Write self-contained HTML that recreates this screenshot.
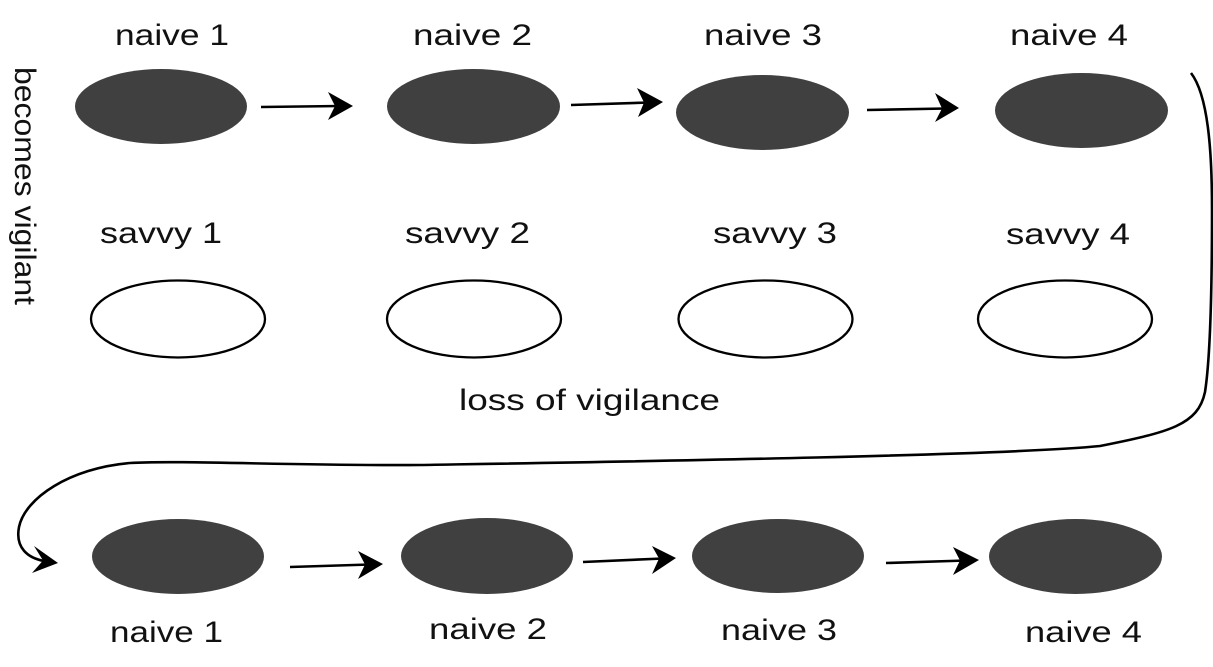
<!DOCTYPE html>
<html>
<head>
<meta charset="utf-8">
<style>
  html, body { margin: 0; padding: 0; background: #ffffff; }
  body { width: 1213px; height: 667px; overflow: hidden; }
  svg { display: block; }
  text { font-family: "Liberation Sans", Arial, sans-serif; font-size: 30px; fill: #111; }
</style>
</head>
<body>
<svg width="1213" height="667" viewBox="0 0 1213 667" xmlns="http://www.w3.org/2000/svg">
  <rect width="1213" height="667" fill="#fff"/>

  <!-- top labels -->
  <text x="115" y="45" textLength="114" lengthAdjust="spacingAndGlyphs">naive 1</text>
  <text x="413" y="45" textLength="119" lengthAdjust="spacingAndGlyphs">naive 2</text>
  <text x="704" y="45" textLength="118" lengthAdjust="spacingAndGlyphs">naive 3</text>
  <text x="1010" y="45" textLength="118" lengthAdjust="spacingAndGlyphs">naive 4</text>

  <!-- top naive ellipses -->
  <g fill="#404040">
    <ellipse cx="161" cy="106.5" rx="86" ry="37.5"/>
    <ellipse cx="473.5" cy="106.5" rx="86.5" ry="37.5"/>
    <ellipse cx="762.5" cy="112.5" rx="86.5" ry="37.5"/>
    <ellipse cx="1081.5" cy="110.5" rx="86.5" ry="37.5"/>
  </g>

  <!-- top arrows -->
  <g stroke="#000" stroke-width="2.6" fill="none">
    <line x1="261" y1="107" x2="340" y2="106"/>
    <line x1="571" y1="105" x2="650" y2="102.5"/>
    <line x1="867" y1="110" x2="946" y2="108.5"/>
  </g>
  <g fill="#000">
    <polygon points="353,106 328,92 335,106 328,120"/>
    <polygon points="663,102 637,88 644,102.5 638,117"/>
    <polygon points="959,108 935,93 942,108.5 935,122"/>
  </g>

  <!-- vertical label -->
  <text transform="translate(15,67) rotate(90)" x="0" y="0" textLength="238" lengthAdjust="spacingAndGlyphs">becomes vigilant</text>

  <!-- savvy labels -->
  <text x="100" y="243" textLength="122" lengthAdjust="spacingAndGlyphs">savvy 1</text>
  <text x="405" y="243" textLength="125" lengthAdjust="spacingAndGlyphs">savvy 2</text>
  <text x="713" y="243" textLength="124" lengthAdjust="spacingAndGlyphs">savvy 3</text>
  <text x="1006" y="244" textLength="124" lengthAdjust="spacingAndGlyphs">savvy 4</text>

  <!-- savvy ellipses -->
  <g fill="#fff" stroke="#000" stroke-width="2.3">
    <ellipse cx="178" cy="319" rx="87" ry="38.5"/>
    <ellipse cx="474" cy="319" rx="87" ry="38.5"/>
    <ellipse cx="765.5" cy="319" rx="87" ry="38.5"/>
    <ellipse cx="1065" cy="319" rx="87" ry="38.5"/>
  </g>

  <text x="459" y="410" textLength="261" lengthAdjust="spacingAndGlyphs">loss of vigilance</text>

  <!-- big return curve -->
  <path d="M1191,73 C1208,95 1212,150 1212,210 C1212,300 1210,360 1205,392 C1198,425 1170,432 1100,446 C1000,456 600,462 420,465 C300,466 180,460 130,463 C70,468 25,498 19,527 C15,548 28,558 44,561"
        fill="none" stroke="#000" stroke-width="2.6"/>
  <polygon points="58,563 34,546 43,560.5 32,573" fill="#000"/>

  <!-- bottom naive ellipses -->
  <g fill="#404040">
    <ellipse cx="178" cy="556.5" rx="86" ry="37.5"/>
    <ellipse cx="487" cy="556" rx="86" ry="38"/>
    <ellipse cx="778" cy="556" rx="86" ry="37"/>
    <ellipse cx="1075.5" cy="556.5" rx="86.5" ry="37.5"/>
  </g>

  <!-- bottom arrows -->
  <g stroke="#000" stroke-width="2.6" fill="none">
    <line x1="290" y1="567" x2="370" y2="564.5"/>
    <line x1="583" y1="562" x2="663" y2="558.5"/>
    <line x1="886" y1="563" x2="966" y2="560.5"/>
  </g>
  <g fill="#000">
    <polygon points="383,564 358,551 365,564.5 358,579"/>
    <polygon points="676,558 652,546 659,558.5 652,574"/>
    <polygon points="979,560 953,547 960,560.5 953,575"/>
  </g>

  <!-- bottom labels -->
  <text x="110" y="642" textLength="113" lengthAdjust="spacingAndGlyphs">naive 1</text>
  <text x="429" y="639" textLength="118" lengthAdjust="spacingAndGlyphs">naive 2</text>
  <text x="721" y="640" textLength="116" lengthAdjust="spacingAndGlyphs">naive 3</text>
  <text x="1025" y="642" textLength="117" lengthAdjust="spacingAndGlyphs">naive 4</text>
</svg>
</body>
</html>
